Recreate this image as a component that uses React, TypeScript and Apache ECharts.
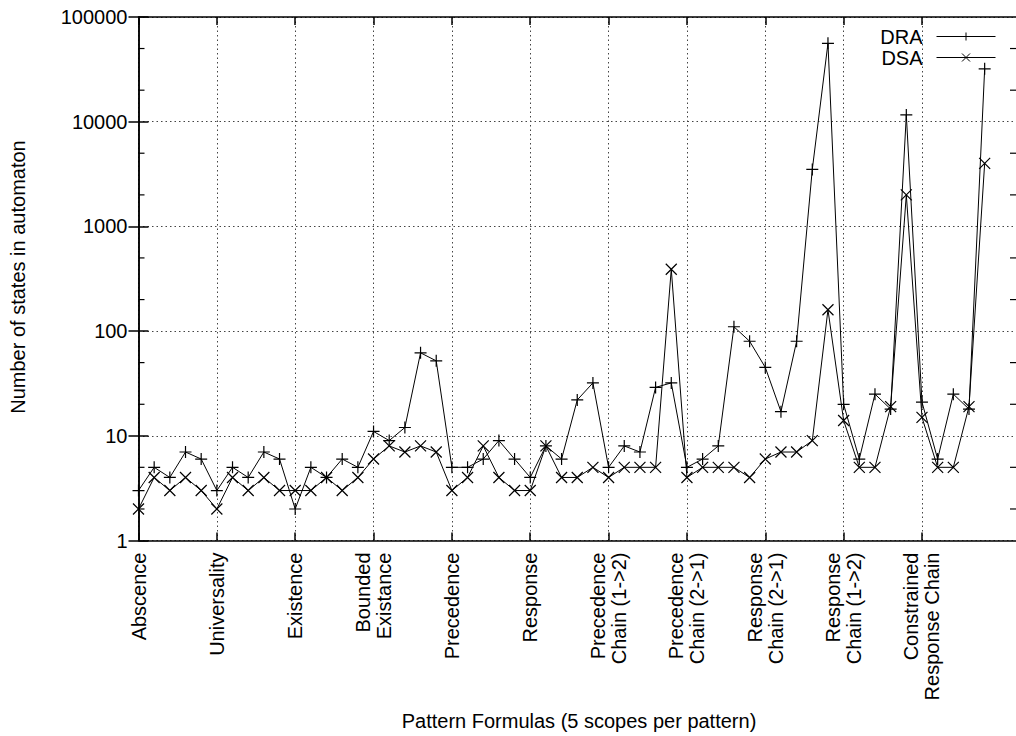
import React, { useEffect, useRef } from "react";
import * as echarts from "echarts";

const PATTERNS = [
  "Abscence",
  "Universality",
  "Existence",
  "Bounded\nExistance",
  "Precedence",
  "Response",
  "Precedence\nChain (1->2)",
  "Precedence\nChain (2->1)",
  "Response\nChain (2->1)",
  "Response\nChain (1->2)",
  "Constrained\nResponse Chain",
];
const SCOPES_PER_PATTERN = 5;

const DRA = [
  3, 5, 4, 7, 6,
  3, 5, 4, 7, 6,
  2, 5, 4, 6, 5,
  11, 9, 12, 62, 52,
  5, 5, 6, 9, 6,
  4, 8, 6, 22, 32,
  5, 8, 7, 29, 32,
  5, 6, 8, 110, 80,
  45, 17, 80, 3500, 56000,
  20, 6, 25, 18, 11600,
  21, 6, 25, 18, 32000,
];

const DSA = [
  2, 4, 3, 4, 3,
  2, 4, 3, 4, 3,
  3, 3, 4, 3, 4,
  6, 8, 7, 8, 7,
  3, 4, 8, 4, 3,
  3, 8, 4, 4, 5,
  4, 5, 5, 5, 390,
  4, 5, 5, 5, 4,
  6, 7, 7, 9, 160,
  14, 5, 5, 19, 2000,
  15, 5, 5, 19, 4000,
];

const Y_MIN = 1;
const Y_MAX = 100000;
const X_MIN = 0;
const X_MAX = 56;
const MINOR_Y_TICKS = [2, 5, 20, 50, 200, 500, 2000, 5000, 20000, 50000];

const FONT = "'Liberation Sans', Arial, Helvetica, sans-serif";
const X_TICKS = PATTERNS.map((_, i) => i * SCOPES_PER_PATTERN);

export default function App() {
  const ref = useRef<HTMLDivElement>(null);

  useEffect(() => {
    if (!ref.current) return;
    const chart = echarts.init(ref.current, null, { renderer: "svg" });

    const gridLine = { show: true, lineStyle: { color: "#444", width: 1, type: [1.5, 3] } };
    const axisLine = { show: true, lineStyle: { color: "#000", width: 1.5 } };
    const tickStyle = { color: "#000", width: 1.5 };

    const option: any = {
      animation: false,
      backgroundColor: "#fff",
      grid: { left: 138.5, right: -4.5, top: 17, bottom: 195.5, containLabel: false },
      legend: {
        data: ["DRA", "DSA"],
        orient: "vertical",
        right: 20,
        top: 26,
        padding: 0,
        align: "right",
        itemWidth: 59,
        itemHeight: 10,
        itemGap: 0,
        lineStyle: { width: 1, color: "#000" },
        itemStyle: { color: "#000", borderColor: "#000", borderWidth: 1 },
        textStyle: { fontSize: 20, fontFamily: FONT, color: "#000", lineHeight: 21, padding: [0, 9, 0, 0] },
      },
      xAxis: [
        {
          type: "value",
          min: X_MIN,
          max: X_MAX,
          interval: 5,
          position: "bottom",
          axisLine,
          axisTick: { show: true, inside: true, length: 8, lineStyle: tickStyle, customValues: X_TICKS },
          splitLine: gridLine,
          axisLabel: {
            show: true,
            rotate: 90,
            margin: 12,
            fontSize: 20,
            lineHeight: 21,
            fontFamily: FONT,
            color: "#000",
            customValues: X_TICKS,
            formatter: (v: number) => {
              const idx = Math.round(v / SCOPES_PER_PATTERN);
              return v % SCOPES_PER_PATTERN === 0 && PATTERNS[idx] ? PATTERNS[idx] : "";
            },
          },
        },
        {
          type: "value",
          min: X_MIN,
          max: X_MAX,
          interval: 5,
          position: "top",
          axisLine,
          axisTick: { show: true, inside: true, length: 8, lineStyle: tickStyle, customValues: X_TICKS },
          splitLine: { show: false },
          axisLabel: { show: false },
        },
      ],
      yAxis: [
        {
          type: "log",
          logBase: 10,
          min: Y_MIN,
          max: Y_MAX,
          position: "left",
          axisLine,
          axisTick: { show: true, inside: true, length: 10, lineStyle: tickStyle },
          minorTick: { show: false },
          splitLine: gridLine,
          axisLabel: {
            margin: 11,
            fontSize: 20,
            fontFamily: FONT,
            color: "#000",
            formatter: (v: number) => String(Math.round(v)),
          },
        },
        {
          type: "log",
          logBase: 10,
          min: Y_MIN,
          max: Y_MAX,
          position: "right",
          axisLine,
          axisTick: { show: true, inside: true, length: 10, lineStyle: tickStyle },
          splitLine: { show: false },
          axisLabel: { show: false },
        },
      ],
      graphic: [
        {
          type: "text",
          x: 579,
          y: 721,
          style: {
            text: "Pattern Formulas (5 scopes per pattern)",
            fontSize: 20,
            fontFamily: FONT,
            fill: "#000",
            align: "center",
            verticalAlign: "middle",
            textAlign: "center",
            textVerticalAlign: "middle",
          },
        },
        {
          type: "text",
          x: 18,
          y: 277,
          rotation: Math.PI / 2,
          style: {
            text: "Number of states in automaton",
            fontSize: 20,
            fontFamily: FONT,
            fill: "#000",
            align: "center",
            verticalAlign: "middle",
            textAlign: "center",
            textVerticalAlign: "middle",
          },
        },
      ],
      series: [
        {
          name: "DRA",
          type: "line",
          xAxisIndex: 0,
          yAxisIndex: 0,
          data: DRA.map((v, i) => [i, v]),
          symbol: "path://M0,6L12,6M6,0L6,12",
          symbolSize: 12,
          showAllSymbol: true,
          lineStyle: { color: "#000", width: 1 },
          itemStyle: { color: "#000", borderColor: "#000", borderWidth: 1.2 },
          z: 3,
        },
        {
          name: "DSA",
          type: "line",
          xAxisIndex: 0,
          yAxisIndex: 0,
          data: DSA.map((v, i) => [i, v]),
          symbol: "path://M0,0L12,12M12,0L0,12",
          symbolSize: 11,
          showAllSymbol: true,
          lineStyle: { color: "#000", width: 1 },
          itemStyle: { color: "#000", borderColor: "#000", borderWidth: 1.2 },
          z: 3,
        },
        {
          name: "minorTicks",
          type: "custom",
          xAxisIndex: 0,
          yAxisIndex: 0,
          silent: true,
          encode: { x: 0, y: 1 },
          data: MINOR_Y_TICKS.map((v) => [X_MIN, v]),
          renderItem: (params: any, api: any) => {
            const v = api.value(1);
            const y = api.coord([X_MIN, v])[1];
            const cs = params.coordSys;
            const style = { stroke: "#000", lineWidth: 1.2 };
            return {
              type: "group",
              children: [
                { type: "line", shape: { x1: cs.x, y1: y, x2: cs.x + 6, y2: y }, style },
                { type: "line", shape: { x1: cs.x + cs.width, y1: y, x2: cs.x + cs.width - 6, y2: y }, style },
              ],
            };
          },
          z: 2,
        },
      ],
    };

    chart.setOption(option);
    return () => chart.dispose();
  }, []);

  return (
    <div
      ref={ref}
      style={{ position: "absolute", left: 0, top: 0, width: 1016, height: 736 }}
    />
  );
}
